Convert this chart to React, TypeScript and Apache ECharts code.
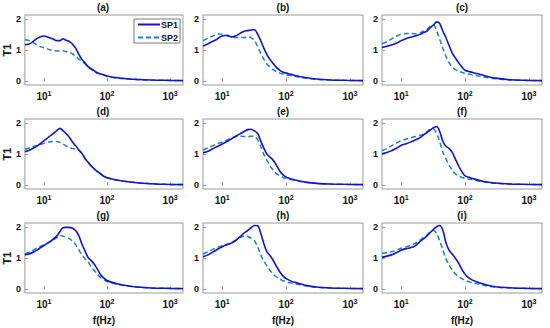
import React, { useEffect, useRef } from "react";
import * as echarts from "echarts";

const FREQ = [5, 6, 7, 8, 9, 10, 12, 14, 16, 18, 20, 22, 25, 28, 32, 36, 40, 45, 50, 56, 63, 70, 80, 90, 100, 120, 150, 200, 300, 500, 800, 1600];

const PANEL_TITLES = ["(a)", "(b)", "(c)", "(d)", "(e)", "(f)", "(g)", "(h)", "(i)"];
const SERIES_NAMES = ["SP1", "SP2"];
const Y_TICKS = [0, 1, 2];
const X_TICKS = [10, 100, 1000];

const A_SP1 = [1.17, 1.2, 1.3, 1.38, 1.43, 1.45, 1.4, 1.35, 1.3, 1.3, 1.36, 1.32, 1.28, 1.2, 1.05, 0.85, 0.7, 0.58, 0.47, 0.4, 0.33, 0.27, 0.23, 0.2, 0.17, 0.13, 0.11, 0.08, 0.06, 0.04, 0.03, 0.02];
const A_SP2 = [1.33, 1.3, 1.22, 1.15, 1.1, 1.07, 1.02, 0.98, 0.97, 0.97, 0.98, 0.95, 0.93, 0.88, 0.8, 0.7, 0.65, 0.55, 0.46, 0.38, 0.32, 0.26, 0.22, 0.19, 0.16, 0.13, 0.1, 0.08, 0.05, 0.04, 0.03, 0.02];
const B_SP1 = [1.13, 1.2, 1.27, 1.33, 1.4, 1.45, 1.47, 1.42, 1.45, 1.5, 1.56, 1.6, 1.62, 1.64, 1.65, 1.5, 1.3, 1.05, 0.85, 0.7, 0.56, 0.45, 0.35, 0.29, 0.26, 0.22, 0.17, 0.12, 0.07, 0.04, 0.03, 0.02];
const B_SP2 = [1.3, 1.38, 1.44, 1.49, 1.51, 1.5, 1.45, 1.42, 1.4, 1.4, 1.4, 1.4, 1.42, 1.4, 1.3, 1.1, 0.9, 0.7, 0.55, 0.45, 0.37, 0.31, 0.26, 0.23, 0.21, 0.18, 0.14, 0.1, 0.06, 0.04, 0.03, 0.02];
const C_SP1 = [1.08, 1.12, 1.16, 1.2, 1.25, 1.3, 1.37, 1.41, 1.44, 1.47, 1.5, 1.55, 1.6, 1.7, 1.8, 1.9, 1.85, 1.6, 1.4, 1.15, 0.9, 0.75, 0.58, 0.45, 0.35, 0.3, 0.25, 0.18, 0.1, 0.05, 0.03, 0.02];
const C_SP2 = [1.2, 1.27, 1.35, 1.42, 1.47, 1.5, 1.53, 1.53, 1.52, 1.52, 1.55, 1.6, 1.65, 1.75, 1.8, 1.6, 1.35, 1.05, 0.8, 0.6, 0.45, 0.38, 0.32, 0.28, 0.25, 0.22, 0.18, 0.13, 0.08, 0.04, 0.03, 0.02];
const D_SP1 = [1.07, 1.13, 1.2, 1.27, 1.35, 1.42, 1.55, 1.65, 1.75, 1.82, 1.75, 1.67, 1.55, 1.4, 1.26, 1.12, 1.02, 0.85, 0.74, 0.62, 0.52, 0.44, 0.36, 0.28, 0.24, 0.2, 0.16, 0.12, 0.08, 0.05, 0.03, 0.02];
const D_SP2 = [1.15, 1.2, 1.25, 1.28, 1.31, 1.34, 1.38, 1.4, 1.4, 1.37, 1.32, 1.27, 1.22, 1.18, 1.16, 1.12, 1.02, 0.85, 0.74, 0.62, 0.52, 0.44, 0.36, 0.28, 0.24, 0.2, 0.16, 0.12, 0.08, 0.05, 0.03, 0.02];
const E_SP1 = [1.04, 1.09, 1.16, 1.22, 1.27, 1.32, 1.41, 1.49, 1.56, 1.62, 1.67, 1.72, 1.78, 1.79, 1.74, 1.65, 1.42, 1.18, 1.0, 0.9, 0.8, 0.65, 0.45, 0.33, 0.26, 0.2, 0.15, 0.1, 0.06, 0.04, 0.03, 0.02];
const E_SP2 = [1.13, 1.2, 1.26, 1.31, 1.35, 1.38, 1.45, 1.51, 1.55, 1.56, 1.57, 1.56, 1.55, 1.57, 1.56, 1.45, 1.25, 0.98, 0.8, 0.62, 0.48, 0.38, 0.3, 0.25, 0.22, 0.18, 0.14, 0.1, 0.06, 0.04, 0.03, 0.02];
const F_SP1 = [1.01, 1.05, 1.1, 1.16, 1.22, 1.28, 1.33, 1.38, 1.43, 1.48, 1.53, 1.6, 1.68, 1.76, 1.84, 1.88, 1.72, 1.4, 1.25, 1.18, 1.05, 0.85, 0.6, 0.42, 0.3, 0.24, 0.18, 0.12, 0.07, 0.04, 0.03, 0.02];
const F_SP2 = [1.11, 1.18, 1.26, 1.32, 1.38, 1.43, 1.48, 1.52, 1.55, 1.58, 1.6, 1.63, 1.7, 1.78, 1.8, 1.65, 1.4, 1.05, 0.85, 0.65, 0.48, 0.37, 0.29, 0.25, 0.22, 0.19, 0.15, 0.1, 0.06, 0.04, 0.03, 0.02];
const G_SP1 = [1.1, 1.14, 1.2, 1.27, 1.34, 1.4, 1.5, 1.6, 1.7, 1.85, 1.97, 1.98, 1.98, 1.96, 1.87, 1.7, 1.45, 1.22, 1.02, 0.92, 0.8, 0.65, 0.45, 0.35, 0.28, 0.22, 0.17, 0.12, 0.07, 0.04, 0.03, 0.02];
const G_SP2 = [1.13, 1.2, 1.27, 1.33, 1.38, 1.42, 1.5, 1.58, 1.65, 1.72, 1.7, 1.67, 1.63, 1.55, 1.42, 1.25, 1.1, 0.97, 0.88, 0.72, 0.6, 0.48, 0.36, 0.3, 0.25, 0.2, 0.16, 0.11, 0.07, 0.04, 0.03, 0.02];
const H_SP1 = [1.04, 1.1, 1.18, 1.25, 1.31, 1.36, 1.43, 1.48, 1.55, 1.64, 1.72, 1.8, 1.88, 1.96, 2.04, 2.03, 1.8, 1.45, 1.2, 1.08, 0.92, 0.75, 0.55, 0.42, 0.34, 0.26, 0.2, 0.13, 0.07, 0.04, 0.03, 0.02];
const H_SP2 = [1.13, 1.2, 1.27, 1.32, 1.36, 1.39, 1.44, 1.5, 1.56, 1.63, 1.68, 1.7, 1.69, 1.64, 1.55, 1.35, 1.1, 0.9, 0.75, 0.6, 0.48, 0.4, 0.32, 0.27, 0.24, 0.2, 0.16, 0.11, 0.06, 0.04, 0.03, 0.02];
const I_SP1 = [1.02, 1.06, 1.1, 1.15, 1.2, 1.25, 1.3, 1.33, 1.37, 1.45, 1.54, 1.6, 1.7, 1.8, 1.92, 2.0, 2.04, 1.88, 1.5, 1.25, 1.12, 1.0, 0.82, 0.62, 0.48, 0.33, 0.24, 0.16, 0.08, 0.05, 0.03, 0.02];
const I_SP2 = [1.15, 1.17, 1.2, 1.24, 1.28, 1.31, 1.36, 1.4, 1.45, 1.52, 1.58, 1.65, 1.73, 1.82, 1.88, 1.78, 1.55, 1.25, 0.98, 0.78, 0.62, 0.5, 0.4, 0.33, 0.28, 0.23, 0.18, 0.12, 0.07, 0.04, 0.03, 0.02];

const PANEL_DATA = [
  [A_SP1, A_SP2], [B_SP1, B_SP2], [C_SP1, C_SP2],
  [D_SP1, D_SP2], [E_SP1, E_SP2], [F_SP1, F_SP2],
  [G_SP1, G_SP2], [H_SP1, H_SP2], [I_SP1, I_SP2],
];

const FONT = "'Liberation Sans', Arial, Helvetica, sans-serif";
const C1 = "#1212d2";
const C2 = "#1f7ec4";
const BORDER = "#9a9a9a";

export default function App() {
  const ref = useRef<HTMLDivElement>(null);
  useEffect(() => {
    if (!ref.current) return;
    const chart = echarts.init(ref.current, undefined, { renderer: "svg" });
    const lefts = [23, 203, 382];
    const tops = [15, 119, 223];
    const W = 160, H = 70;
    const grid: any[] = [], xAxis: any[] = [], yAxis: any[] = [], series: any[] = [], title: any[] = [];
    PANEL_DATA.forEach((pair, i) => {
      const r = Math.floor(i / 3), c = i % 3;
      grid.push({ left: lefts[c], top: tops[r], width: W, height: H, show: true, borderColor: BORDER, borderWidth: 1, backgroundColor: "#fff" });
      title.push({
        text: PANEL_TITLES[i], left: lefts[c] + W / 2, top: tops[r] - 13, textAlign: "center",
        textStyle: { fontFamily: FONT, fontSize: 10, fontWeight: "bold", color: "#111" }, padding: 0,
      });
      xAxis.push({
        type: "log", logBase: 10, min: 5, max: 1600, gridIndex: i,
        name: r === 2 ? "f(Hz)" : "", nameLocation: "middle", nameGap: 22,
        nameTextStyle: { fontFamily: FONT, fontSize: 10, fontWeight: "bold", color: "#111" },
        axisLine: { show: false },
        axisTick: { show: true, inside: true, length: 3, lineStyle: { color: BORDER }, customValues: X_TICKS },
        splitLine: { show: false },
        axisLabel: {
          customValues: X_TICKS, margin: 5,
          formatter: (v: number) => `{b|10}{s|${Math.round(Math.log10(v))}}`,
          rich: {
            b: { fontFamily: FONT, fontSize: 10, fontWeight: "bold", color: "#111", lineHeight: 13 },
            s: { fontFamily: FONT, fontSize: 7, fontWeight: "bold", color: "#111", verticalAlign: "top", lineHeight: 13, padding: [0, 0, 5, 0] },
          },
        },
      });
      yAxis.push({
        type: "value", min: -0.12, max: 2.12, gridIndex: i,
        name: c === 0 ? "T1" : "", nameLocation: "middle", nameGap: 11, nameRotate: 90,
        nameTextStyle: { fontFamily: FONT, fontSize: 11, fontWeight: "bold", color: "#111" },
        axisLine: { show: false },
        axisTick: { show: true, inside: true, length: 3, lineStyle: { color: BORDER }, customValues: Y_TICKS },
        splitLine: { show: false },
        axisLabel: { customValues: Y_TICKS, margin: 4, fontFamily: FONT, fontSize: 9, fontWeight: "bold", color: "#111" },
      });
      series.push({
        type: "line", name: SERIES_NAMES[0], xAxisIndex: i, yAxisIndex: i, symbol: "none", smooth: 0.3,
        data: FREQ.map((f, k) => [f, pair[0][k]]),
        lineStyle: { color: C1, width: 1.6, type: "solid" }, itemStyle: { color: C1 }, z: 3,
      });
      series.push({
        type: "line", name: SERIES_NAMES[1], xAxisIndex: i, yAxisIndex: i, symbol: "none", smooth: 0.3,
        data: FREQ.map((f, k) => [f, pair[1][k]]),
        lineStyle: { color: C2, width: 1.5, type: [5, 3] }, itemStyle: { color: C2 }, z: 2,
      });
    });
    chart.setOption({
      animation: false,
      backgroundColor: "#fff",
      title,
      grid, xAxis, yAxis, series,
      legend: {
        data: SERIES_NAMES, orient: "vertical", left: 134, top: 19,
        itemWidth: 22, itemHeight: 11, itemGap: 4, padding: [1, 2, 1, 3],
        itemStyle: { opacity: 0 },
        backgroundColor: "#fff", borderColor: "#555", borderWidth: 0.8,
        textStyle: { fontFamily: FONT, fontSize: 9, fontWeight: "bold", color: "#111", padding: [0, 0, 0, -4] },
      },
    });
    return () => chart.dispose();
  }, []);
  return <div ref={ref} style={{ width: 550, height: 328, position: "absolute", left: 0, top: 0 }} />;
}
